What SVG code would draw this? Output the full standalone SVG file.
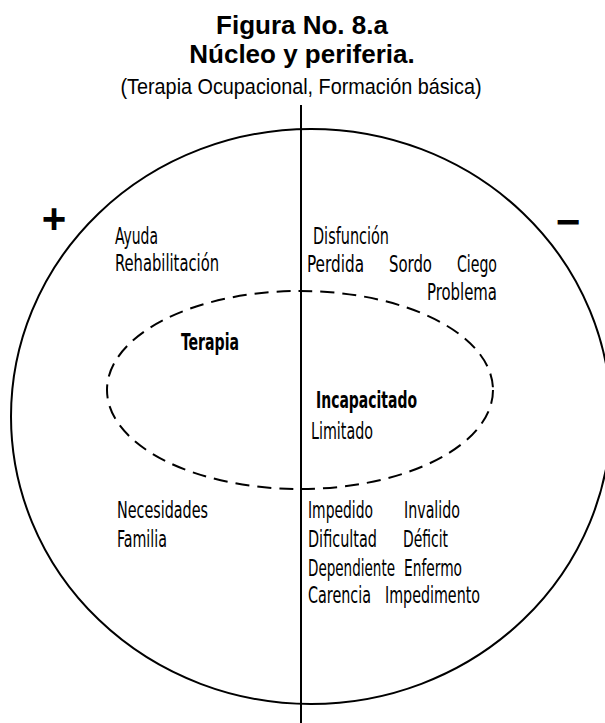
<svg xmlns="http://www.w3.org/2000/svg" width="605" height="723" viewBox="0 0 605 723">
<style>
.title{font-family:"Liberation Sans",Arial,sans-serif;font-weight:bold;font-size:26px;fill:#000;text-anchor:middle}
.sub{font-family:"Liberation Sans Narrow","Liberation Sans",Arial,sans-serif;font-size:22px;fill:#000;text-anchor:middle}
.w{font-family:"Liberation Sans Narrow","DejaVu Sans Condensed","Liberation Sans",sans-serif;font-size:16px;fill:#000}
.b{font-weight:bold}
.sign{font-family:"Liberation Sans",Arial,sans-serif;font-weight:bold;font-size:42px;fill:#000;text-anchor:middle}
.line{fill:none;stroke:#000;stroke-width:2}
.dash{fill:none;stroke:#000;stroke-width:2;stroke-dasharray:14 8}
</style>
<rect width="605" height="723" fill="#fff"/>
<g id="title">
<text class="title" x="302" y="34">Figura No. 8.a</text>
<text class="title" x="302" y="63">Núcleo y periferia.</text>
<text class="sub" x="301" y="94" textLength="361" lengthAdjust="spacingAndGlyphs">(Terapia Ocupacional, Formación básica)</text>
</g>
<g id="periferia"><ellipse class="line" cx="311" cy="416.5" rx="300" ry="287.5"/></g>
<g id="nucleo"><ellipse class="dash" cx="300" cy="390" rx="193" ry="99"/></g>
<g id="connectors"><line class="line" x1="301" y1="105" x2="301" y2="723"/></g>
<g id="signos">
<text class="sign" x="54" y="233">+</text>
<text class="sign" x="568" y="236">−</text>
</g>
<g id="positivo">
<text class="w" transform="translate(115,244) scale(1,1.45)" textLength="43" lengthAdjust="spacingAndGlyphs">Ayuda</text>
<text class="w" transform="translate(115,271) scale(1,1.45)" textLength="104" lengthAdjust="spacingAndGlyphs">Rehabilitación</text>
<text class="w b" transform="translate(181,350) scale(1,1.45)" textLength="58" lengthAdjust="spacingAndGlyphs">Terapia</text>
<text class="w" transform="translate(117,518) scale(1,1.45)" textLength="91" lengthAdjust="spacingAndGlyphs">Necesidades</text>
<text class="w" transform="translate(117,547) scale(1,1.45)" textLength="50" lengthAdjust="spacingAndGlyphs">Familia</text>
</g>
<g id="negativo">
<text class="w" transform="translate(313,244) scale(1,1.45)" textLength="76" lengthAdjust="spacingAndGlyphs">Disfunción</text>
<text class="w" transform="translate(307,272) scale(1,1.45)" textLength="57" lengthAdjust="spacingAndGlyphs">Perdida</text>
<text class="w" transform="translate(389,272) scale(1,1.45)" textLength="43" lengthAdjust="spacingAndGlyphs">Sordo</text>
<text class="w" transform="translate(457,272) scale(1,1.45)" textLength="40" lengthAdjust="spacingAndGlyphs">Ciego</text>
<text class="w" transform="translate(427,300) scale(1,1.45)" textLength="70" lengthAdjust="spacingAndGlyphs">Problema</text>
<text class="w b" transform="translate(316,408) scale(1,1.45)" textLength="101" lengthAdjust="spacingAndGlyphs">Incapacitado</text>
<text class="w" transform="translate(311,439) scale(1,1.45)" textLength="62" lengthAdjust="spacingAndGlyphs">Limitado</text>
<text class="w" transform="translate(308,518) scale(1,1.45)" textLength="65" lengthAdjust="spacingAndGlyphs">Impedido</text>
<text class="w" transform="translate(404,518) scale(1,1.45)" textLength="56" lengthAdjust="spacingAndGlyphs">Invalido</text>
<text class="w" transform="translate(308,547) scale(1,1.45)" textLength="69" lengthAdjust="spacingAndGlyphs">Dificultad</text>
<text class="w" transform="translate(403,547) scale(1,1.45)" textLength="45" lengthAdjust="spacingAndGlyphs">Déficit</text>
<text class="w" transform="translate(308,576) scale(1,1.45)" textLength="87" lengthAdjust="spacingAndGlyphs">Dependiente</text>
<text class="w" transform="translate(404,576) scale(1,1.45)" textLength="58" lengthAdjust="spacingAndGlyphs">Enfermo</text>
<text class="w" transform="translate(308,603) scale(1,1.45)" textLength="63" lengthAdjust="spacingAndGlyphs">Carencia</text>
<text class="w" transform="translate(385,603) scale(1,1.45)" textLength="95" lengthAdjust="spacingAndGlyphs">Impedimento</text>
</g>
</svg>
